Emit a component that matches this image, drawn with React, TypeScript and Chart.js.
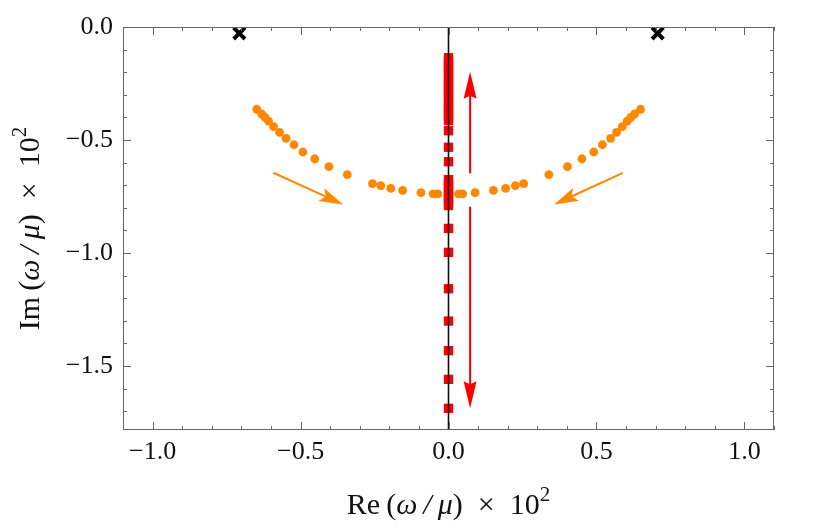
import { useEffect, useRef } from 'react';
import { Chart, registerables } from 'chart.js';

Chart.register(...registerables);

// ---- data ----
const crossRe = [-0.707, 0.707];
const crossIm = [-0.028, -0.028];

const orangeRe = [
  -0.648, -0.631, -0.62, -0.608, -0.591, -0.571, -0.549, -0.522, -0.492, -0.452, -0.404, -0.342,
  -0.257, -0.229, -0.195, -0.155, -0.093, -0.052, -0.036,
  0.034, 0.048, 0.09, 0.152, 0.193, 0.226, 0.254, 0.339, 0.402, 0.451, 0.491, 0.52, 0.548,
  0.568, 0.587, 0.604, 0.616, 0.629, 0.649,
];
const orangeIm = [
  -0.364, -0.385, -0.4, -0.416, -0.441, -0.466, -0.493, -0.521, -0.553, -0.583, -0.618, -0.653,
  -0.693, -0.702, -0.714, -0.723, -0.733, -0.738, -0.738,
  -0.738, -0.738, -0.733, -0.723, -0.714, -0.702, -0.693, -0.653, -0.618, -0.583, -0.553, -0.521, -0.493,
  -0.466, -0.441, -0.416, -0.4, -0.385, -0.364,
];

const redIm = [
  -0.136, -0.15, -0.165, -0.18, -0.195, -0.21, -0.225, -0.24, -0.255, -0.27, -0.285, -0.3,
  -0.315, -0.33, -0.345, -0.36, -0.375, -0.39, -0.4, -0.414,
  -0.459, -0.532, -0.596,
  -0.675, -0.69, -0.705, -0.72, -0.735, -0.75, -0.765, -0.78, -0.79,
  -0.891, -0.997, -1.158, -1.301, -1.432, -1.559, -1.687,
];
const redRe = redIm.map(() => 0);

const xTickValues = [-1.0, -0.5, 0.0, 0.5, 1.0];
const yTickValues = [0.0, -0.5, -1.0, -1.5];
const xMin = -1.1;
const xMax = 1.1;
const yMin = -1.783;
const yMax = 0;

// arrows: [fromRe, fromIm, toRe, toIm]
const redArrows = [
  [0.073, -0.647, 0.073, -0.198],
  [0.073, -0.795, 0.073, -1.687],
];
const orangeArrows = [
  [-0.592, -0.645, -0.356, -0.785],
  [0.589, -0.645, 0.357, -0.785],
];

const FONT = '"Liberation Serif", "DejaVu Serif", serif';

const fmt = (v: number) => {
  const s = Math.abs(v).toFixed(1);
  return v < -1e-9 ? '\u2212' + s : s;
};

type Seg = { t: string; italic?: boolean; sup?: boolean };

function drawMixed(ctx: CanvasRenderingContext2D, segs: Seg[], size: number) {
  const fontFor = (s: Seg) =>
    `${s.italic ? 'italic ' : ''}${s.sup ? Math.round(size * 0.7) : size}px ${FONT}`;
  let total = 0;
  const widths = segs.map((s) => {
    ctx.font = fontFor(s);
    const w = ctx.measureText(s.t).width;
    total += w;
    return w;
  });
  let x = -total / 2;
  segs.forEach((s, i) => {
    ctx.font = fontFor(s);
    ctx.fillText(s.t, x, s.sup ? -size * 0.42 : 0);
    x += widths[i];
  });
}

function drawArrow(
  ctx: CanvasRenderingContext2D,
  x1: number, y1: number, x2: number, y2: number,
  color: string, lw: number, headLen: number, headW: number, notch: number
) {
  const ang = Math.atan2(y2 - y1, x2 - x1);
  const cos = Math.cos(ang);
  const sin = Math.sin(ang);
  const bx = x2 - cos * headLen;
  const by = y2 - sin * headLen;
  ctx.save();
  ctx.strokeStyle = color;
  ctx.fillStyle = color;
  ctx.lineWidth = lw;
  ctx.beginPath();
  ctx.moveTo(x1, y1);
  ctx.lineTo(bx + cos * notch, by + sin * notch);
  ctx.stroke();
  ctx.beginPath();
  ctx.moveTo(x2, y2);
  ctx.lineTo(bx - sin * headW / 2, by + cos * headW / 2);
  ctx.lineTo(bx + cos * notch, by + sin * notch);
  ctx.lineTo(bx + sin * headW / 2, by - cos * headW / 2);
  ctx.closePath();
  ctx.fill();
  ctx.restore();
}

const titleSegs = (head: string): Seg[] => [
  { t: head },
  { t: '\u2009(' },
  { t: '\u03c9\u2009/\u2009\u03bc', italic: true },
  { t: ')\u2002\u00d7\u200210' },
  { t: '2', sup: true },
];

const framePlugin = {
  id: 'frameAndDecor',
  afterDatasetsDraw(chart: any) {
    const ctx: CanvasRenderingContext2D = chart.ctx;
    const xs = chart.scales.x;
    const ys = chart.scales.y;
    const { left, right, top, bottom } = chart.chartArea;

    // arrows
    redArrows.forEach((a) =>
      drawArrow(ctx, xs.getPixelForValue(a[0]), ys.getPixelForValue(a[1]),
        xs.getPixelForValue(a[2]), ys.getPixelForValue(a[3]), '#ff0000', 2, 27, 13, 3)
    );
    orangeArrows.forEach((a) =>
      drawArrow(ctx, xs.getPixelForValue(a[0]), ys.getPixelForValue(a[1]),
        xs.getPixelForValue(a[2]), ys.getPixelForValue(a[3]), '#ff8800', 2, 24, 14, 5)
    );

    // frame
    ctx.save();
    ctx.strokeStyle = '#666666';
    ctx.lineWidth = 1;
    ctx.strokeRect(left + 0.5, top + 0.5, right - left - 1, bottom - top - 1);

    // ticks (inward, all four sides)
    ctx.beginPath();
    for (let i = -11; i <= 11; i++) {
      const v = i / 10;
      const major = i % 5 === 0;
      const len = major ? 8 : 4;
      const px = Math.round(xs.getPixelForValue(v)) + 0.5;
      ctx.moveTo(px, bottom);
      ctx.lineTo(px, bottom - len);
      ctx.moveTo(px, top);
      ctx.lineTo(px, top + len);
    }
    for (let i = 0; i >= -17; i--) {
      const v = i / 10;
      const major = i % 5 === 0;
      const len = major ? 8 : 4;
      const py = Math.round(ys.getPixelForValue(v)) + 0.5;
      ctx.moveTo(left, py);
      ctx.lineTo(left + len, py);
      ctx.moveTo(right, py);
      ctx.lineTo(right - len, py);
    }
    ctx.stroke();
    ctx.restore();

    // axis titles
    ctx.save();
    ctx.fillStyle = '#111111';
    ctx.textBaseline = 'alphabetic';
    ctx.textAlign = 'left';
    ctx.translate((left + right) / 2, 514);
    drawMixed(ctx, titleSegs('Re'), 30);
    ctx.restore();

    ctx.save();
    ctx.fillStyle = '#111111';
    ctx.textBaseline = 'alphabetic';
    ctx.textAlign = 'left';
    ctx.translate(39, (top + bottom) / 2);
    ctx.rotate(-Math.PI / 2);
    drawMixed(ctx, titleSegs('Im'), 30);
    ctx.restore();
  },
};

export default function App() {
  const ref = useRef<HTMLCanvasElement | null>(null);

  useEffect(() => {
    if (!ref.current) return;
    const chart = new Chart(ref.current, {
      type: 'scatter',
      data: {
        datasets: [
          {
            label: 'axis',
            data: [{ x: 0, y: yMin }, { x: 0, y: yMax }],
            showLine: true,
            borderColor: '#111111',
            borderWidth: 1.6,
            pointRadius: 0,
          },
          {
            label: 'red',
            data: redIm.map((y, i) => ({ x: redRe[i], y })),
            pointStyle: 'rect',
            pointRadius: 6.6,
            backgroundColor: '#ff0000',
            borderWidth: 0,
          },
          {
            label: 'orange',
            data: orangeIm.map((y, i) => ({ x: orangeRe[i], y })),
            pointStyle: 'circle',
            pointRadius: 4.4,
            backgroundColor: '#ff8800',
            borderWidth: 0,
          },
          {
            label: 'cross',
            data: crossIm.map((y, i) => ({ x: crossRe[i], y })),
            pointStyle: 'crossRot',
            pointRadius: 8,
            borderColor: '#000000',
            borderWidth: 4,
          },
        ],
      },
      options: {
        responsive: false,
        animation: false,
        layout: { padding: { top: 27, right: 56, left: 0, bottom: 0 } },
        plugins: { legend: { display: false }, tooltip: { enabled: false } },
        scales: {
          x: {
            type: 'linear',
            min: xMin,
            max: xMax,
            afterBuildTicks: (s: any) => {
              s.ticks = xTickValues.map((v) => ({ value: v }));
            },
            afterFit: (s: any) => {
              s.height = 99;
            },
            ticks: {
              callback: (v: any) => fmt(Number(v)),
              font: { family: FONT, size: 26 },
              color: '#111111',
              padding: 7,
              maxRotation: 0,
              autoSkip: false,
            },
            grid: { display: false, drawTicks: false },
            border: { display: false },
          },
          y: {
            type: 'linear',
            min: yMin,
            max: yMax,
            afterBuildTicks: (s: any) => {
              s.ticks = yTickValues.map((v) => ({ value: v }));
            },
            afterFit: (s: any) => {
              s.width = 123;
            },
            ticks: {
              callback: (v: any) => fmt(Number(v)),
              font: { family: FONT, size: 26 },
              color: '#111111',
              padding: 10,
              autoSkip: false,
            },
            grid: { display: false, drawTicks: false },
            border: { display: false },
          },
        },
      },
      plugins: [framePlugin],
    });
    return () => chart.destroy();
  }, []);

  return (
    <div style={{ position: 'absolute', left: 0, top: 0, width: 830, height: 529, background: '#ffffff' }}>
      <canvas ref={ref} width={830} height={529} />
    </div>
  );
}
